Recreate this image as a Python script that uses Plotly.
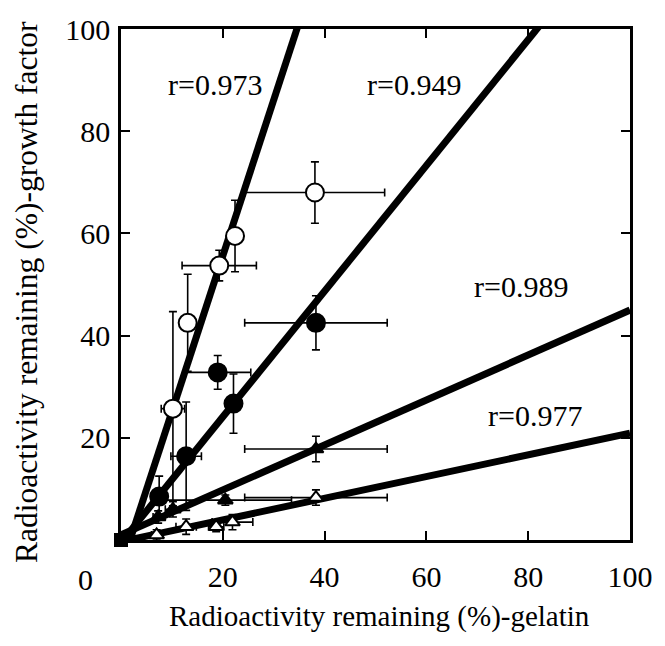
import plotly.graph_objects as go

# ---- data ----
# open circles (r=0.973)
oc_x = [10.2, 13.1, 19.3, 22.4, 38.1]
oc_y = [25.7, 42.5, 53.7, 59.5, 68.0]
oc_xerr = [2.3, 1.0, 7.3, 1.5, 13.7]
oc_yerr = [19.0, 9.5, 3.0, 7.0, 6.0]

# filled circles (r=0.949)
fc_x = [7.5, 12.8, 19.0, 22.1, 38.3]
fc_y = [8.5, 16.4, 32.8, 26.7, 42.5]
fc_xerr = [1.2, 3.0, 6.5, 1.0, 14.0]
fc_yerr = [4.0, 10.6, 3.3, 5.8, 5.3]

# filled triangles (r=0.989)
ft_x = [7.3, 10.2, 20.5, 38.3]
ft_y = [4.5, 6.0, 7.8, 17.8]
ft_xerr = [1.0, 1.5, 13.0, 14.0]
ft_yerr = [1.2, 1.5, 1.0, 2.5]

# open triangles (r=0.977)
ot_x = [7.0, 12.8, 18.7, 21.9, 38.3]
ot_y = [1.0, 2.6, 2.6, 3.5, 8.3]
ot_xerr = [1.0, 2.0, 1.5, 4.0, 14.0]
ot_yerr = [1.0, 1.5, 1.0, 1.5, 1.5]

origin_x = [0]
origin_y = [0]

# regression lines: slope, intercept, label, label position
line_slope = [3.05, 1.23, 0.44, 0.212]
line_icpt = [-5.4, -0.5, 1.0, -0.3]
line_label = ["r=0.973", "r=0.949", "r=0.989", "r=0.977"]
label_x = [18.4, 57.6, 78.5, 81.4]
label_y = [89.2, 89.2, 49.6, 24.3]

x_ticks = [20, 40, 60, 80, 100]
y_ticks = [20, 40, 60, 80, 100]

FONT = "Liberation Serif"

fig = go.Figure()

# regression lines
for m, b in zip(line_slope, line_icpt):
    xs = [0, 100]
    ys = [m * x + b for x in xs]
    fig.add_trace(go.Scatter(x=xs, y=ys, mode="lines",
                             line=dict(color="black", width=7),
                             showlegend=False, hoverinfo="skip"))

def err(arr):
    return dict(type="data", array=arr, visible=True, color="black",
                thickness=1.6, width=4)

def add_series(xs, ys, xe, ye, symbol, fill):
    fig.add_trace(go.Scatter(
        x=xs, y=ys, mode="markers",
        error_x=err(xe), error_y=err(ye),
        marker=dict(symbol=symbol, size=18 if "circle" in symbol else 13,
                    color=fill, line=dict(color="black", width=2)),
        showlegend=False, cliponaxis=False))

add_series(ft_x, ft_y, ft_xerr, ft_yerr, "triangle-up", "black")
add_series(ot_x, ot_y, ot_xerr, ot_yerr, "triangle-up", "white")
add_series(fc_x, fc_y, fc_xerr, fc_yerr, "circle", "black")
add_series(oc_x, oc_y, oc_xerr, oc_yerr, "circle", "white")

fig.add_trace(go.Scatter(x=origin_x, y=origin_y, mode="markers",
                         marker=dict(symbol="square", size=14, color="black"),
                         showlegend=False, cliponaxis=False))

for t, lx, ly in zip(line_label, label_x, label_y):
    fig.add_annotation(x=lx, y=ly, text=t, showarrow=False,
                       xanchor="center", yanchor="middle",
                       font=dict(family=FONT, size=30, color="black"))

# shared origin label
fig.add_annotation(x=0, y=0, xref="x", yref="y", text="0", showarrow=False,
                   xanchor="center", yanchor="middle",
                   xshift=-36, yshift=-39,
                   font=dict(family=FONT, size=30, color="black"))

# axis titles (placed as paper annotations)
fig.add_annotation(x=0.508, y=-0.150, xref="paper", yref="paper",
                   xanchor="center", yanchor="middle",
                   text="Radioactivity remaining (%)-gelatin", showarrow=False,
                   font=dict(family=FONT, size=29, color="black"))
fig.add_annotation(x=-0.1855, y=0.4846, xref="paper", yref="paper",
                   xanchor="center", yanchor="middle",
                   text="Radioactivity remaining (%)-growth factor",
                   showarrow=False, textangle=-90,
                   font=dict(family=FONT, size=31.5, color="black"))

axis_common = dict(showline=True, linecolor="black", linewidth=2.5,
                   mirror="ticks", ticks="inside", ticklen=9,
                   tickwidth=2, tickcolor="black", showgrid=False,
                   zeroline=False,
                   tickfont=dict(family=FONT, size=30, color="black"))

fig.update_xaxes(range=[0, 100], tickvals=x_ticks,
                 ticktext=[str(v) for v in x_ticks],
                 ticklabelstandoff=8, **axis_common)
fig.update_yaxes(range=[0, 100], tickvals=y_ticks,
                 ticktext=[str(v) for v in y_ticks],
                 ticklabelstandoff=2, **axis_common)

fig.update_layout(width=665, height=646,
                  margin=dict(l=121, r=32, t=22, b=106),
                  plot_bgcolor="white", paper_bgcolor="white")

fig.write_html("out.html")
